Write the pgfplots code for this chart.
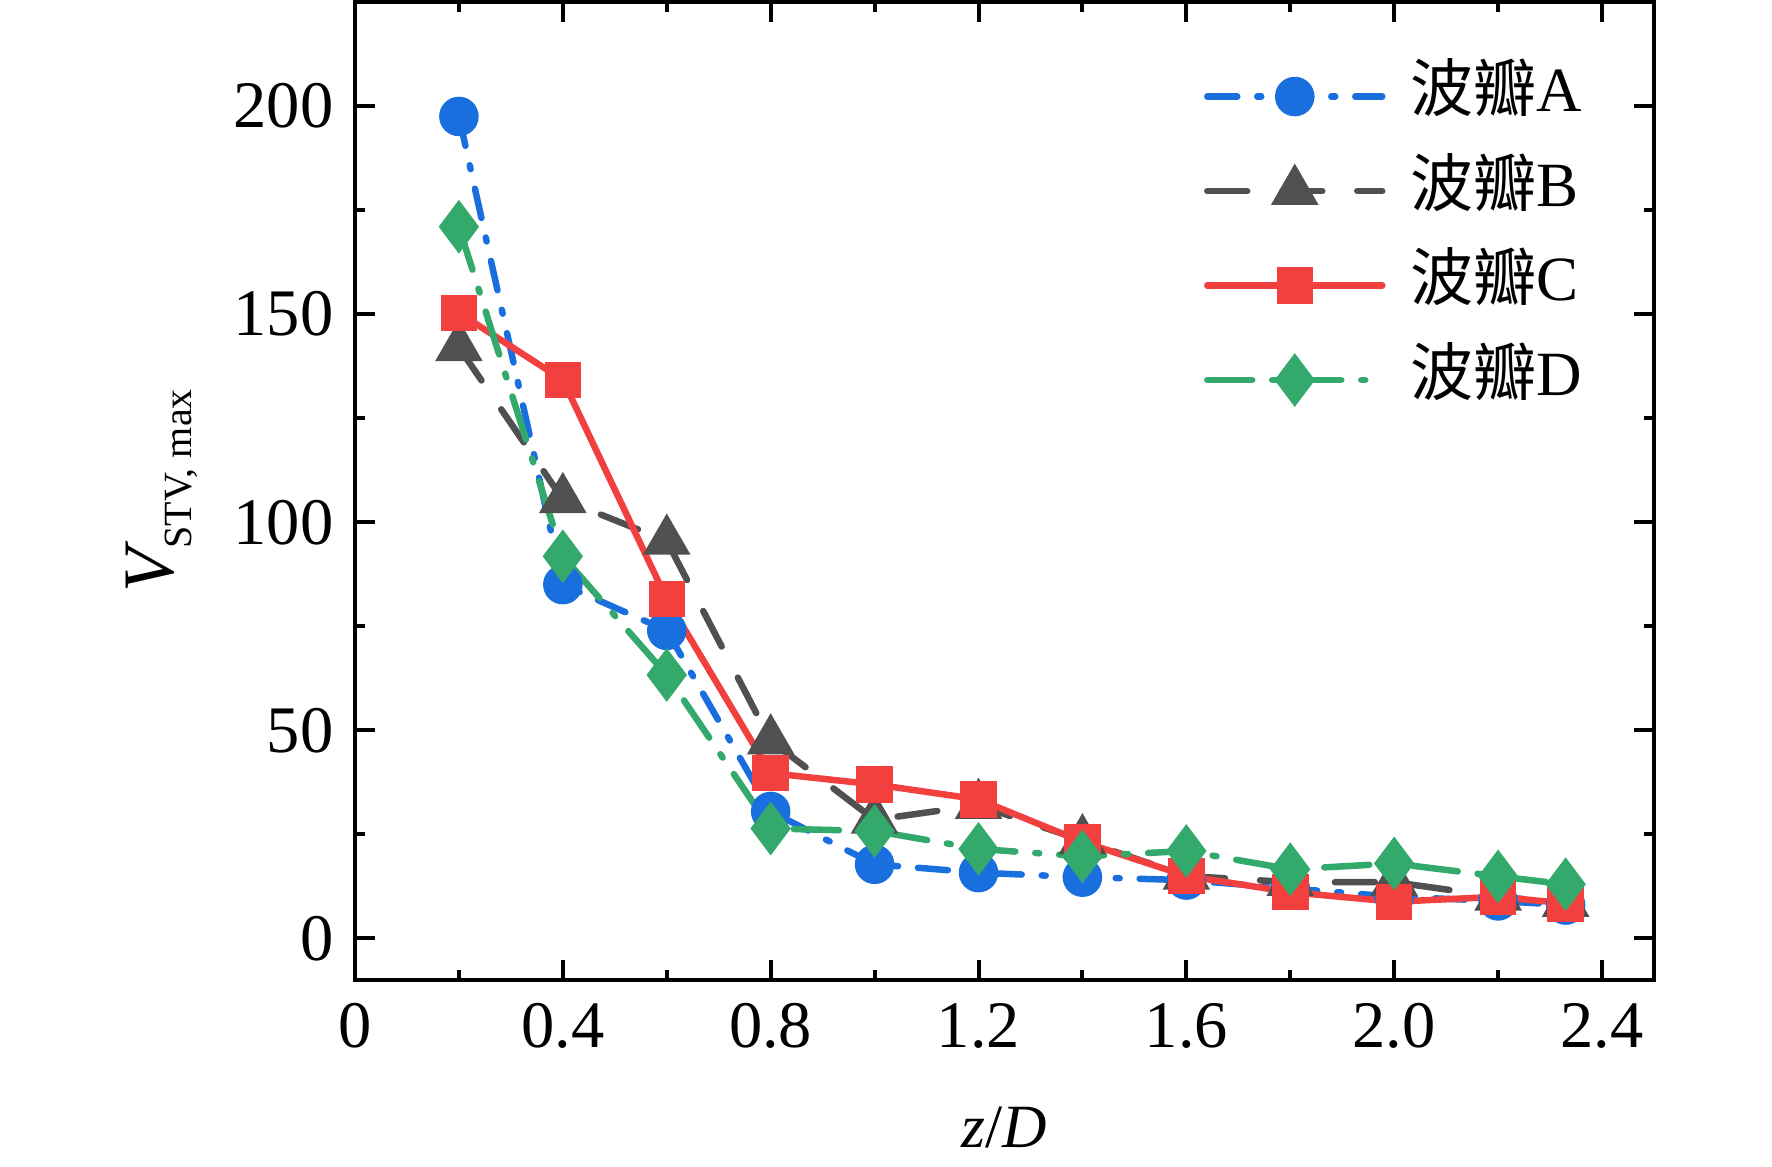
\documentclass[border=0pt]{standalone}
\usepackage{fontspec}
\setmainfont{Liberation Serif}
\newfontfamily\cjk{Noto Sans CJK SC}
\usepackage{pgfplots}
\pgfplotsset{compat=1.18}
\definecolor{cA}{HTML}{1A6FDF}
\definecolor{cB}{HTML}{505050}
\definecolor{cC}{HTML}{F2403F}
\definecolor{cD}{HTML}{33AA6B}
\begin{document}
\begin{tikzpicture}
\path[use as bounding box] (-71pt,-37.4pt) rectangle (283.4pt,196pt);
\begin{axis}[
  at={(0pt,0pt)}, anchor=south west,
  scale only axis, width=259.8pt, height=195.6pt,
  xmin=0, xmax=2.5, ymin=-10, ymax=225,
  axis line style={line width=0.8pt},
  every tick/.style={black, line width=0.8pt},
  major tick length=4pt, minor tick length=2pt,
  xtick={0,0.4,0.8,1.2,1.6,2.0,2.4},
  xticklabels={0,0.4,0.8,1.2,1.6,2.0,2.4},
  ytick={0,50,100,150,200},
  minor x tick num=1, minor y tick num=1,
  /pgf/number format/assume math mode=true,
  tick label style={font=\fontsize{13.3}{15}\selectfont},
  xticklabel style={yshift=-1.2pt},
  yticklabel style={xshift=-0.8pt},
  xlabel={\textit{z}/\textit{D}},
  xlabel style={font=\fontsize{12.3}{14}\selectfont, at={(axis description cs:0.5,-0.171)}, anchor=base},
  ylabel={{\itshape V}\raisebox{-0.25em}{\fontsize{8}{9}\selectfont\upshape STV, max}},
  ylabel style={font=\fontsize{14.5}{16}\selectfont, at={(axis description cs:-0.140,0.5)}, anchor=base, rotate=0},
  legend cell align=left,
  legend style={draw=none, fill=none, at={(0.6536,0.934)}, anchor=north west,
    inner sep=0pt, outer sep=0pt, row sep=6.9pt,
    font=\fontsize{12.6}{14}\selectfont,
    nodes={inner sep=0pt, text height=9pt, text depth=3pt},
    /tikz/every odd column/.style={column sep=5pt}},
  legend image code/.code={\draw[mark repeat=2, mark phase=2, #1] plot coordinates {(0pt,0pt) (17.5pt,0pt) (35pt,0pt)};},
  every axis plot/.append style={line width=1.3pt, line cap=round},
]
\addplot[color=cA, dash pattern=on 6pt off 4pt on 0.8pt off 4pt, mark=*, mark size=3.3pt, mark options={solid}]
coordinates {(0.2,197.5) (0.4,85) (0.6,74) (0.8,30.5) (1.0,17.8) (1.2,15.8) (1.4,14.7) (1.6,14) (1.8,12) (2.0,10) (2.2,9) (2.33,8)};
\addlegendentry{{\cjk 波瓣}A}
\addplot[color=cB, dash pattern=on 8pt off 7pt, mark=triangle*, mark size=4.2pt, mark options={solid}]
coordinates {(0.2,142) (0.4,105.5) (0.6,95.5) (0.8,47.5) (1.0,28.5) (1.2,32) (1.4,23.5) (1.6,15) (1.8,13.5) (2.0,13.5) (2.2,10) (2.33,8.5)};
\addlegendentry{{\cjk 波瓣}B}
\addplot[color=cC, solid, mark=square*, mark size=3pt, mark options={solid}]
coordinates {(0.2,150.3) (0.4,134.2) (0.6,81.5) (0.8,39.7) (1.0,37) (1.2,33.4) (1.4,23.2) (1.6,15) (1.8,11.1) (2.0,8.8) (2.2,10) (2.33,8.4)};
\addlegendentry{{\cjk 波瓣}C}
\addplot[color=cD, dash pattern=on 9pt off 4pt on 0.8pt off 4pt, mark=diamond*, mark size=4.3pt, mark options={solid}]
coordinates {(0.2,171) (0.4,91.8) (0.6,63.3) (0.8,26.4) (1.0,25.8) (1.2,21.5) (1.4,19.7) (1.6,21) (1.8,16.6) (2.0,18) (2.2,14.9) (2.33,13)};
\addlegendentry{{\cjk 波瓣}D}
\end{axis}
\end{tikzpicture}
\end{document}
